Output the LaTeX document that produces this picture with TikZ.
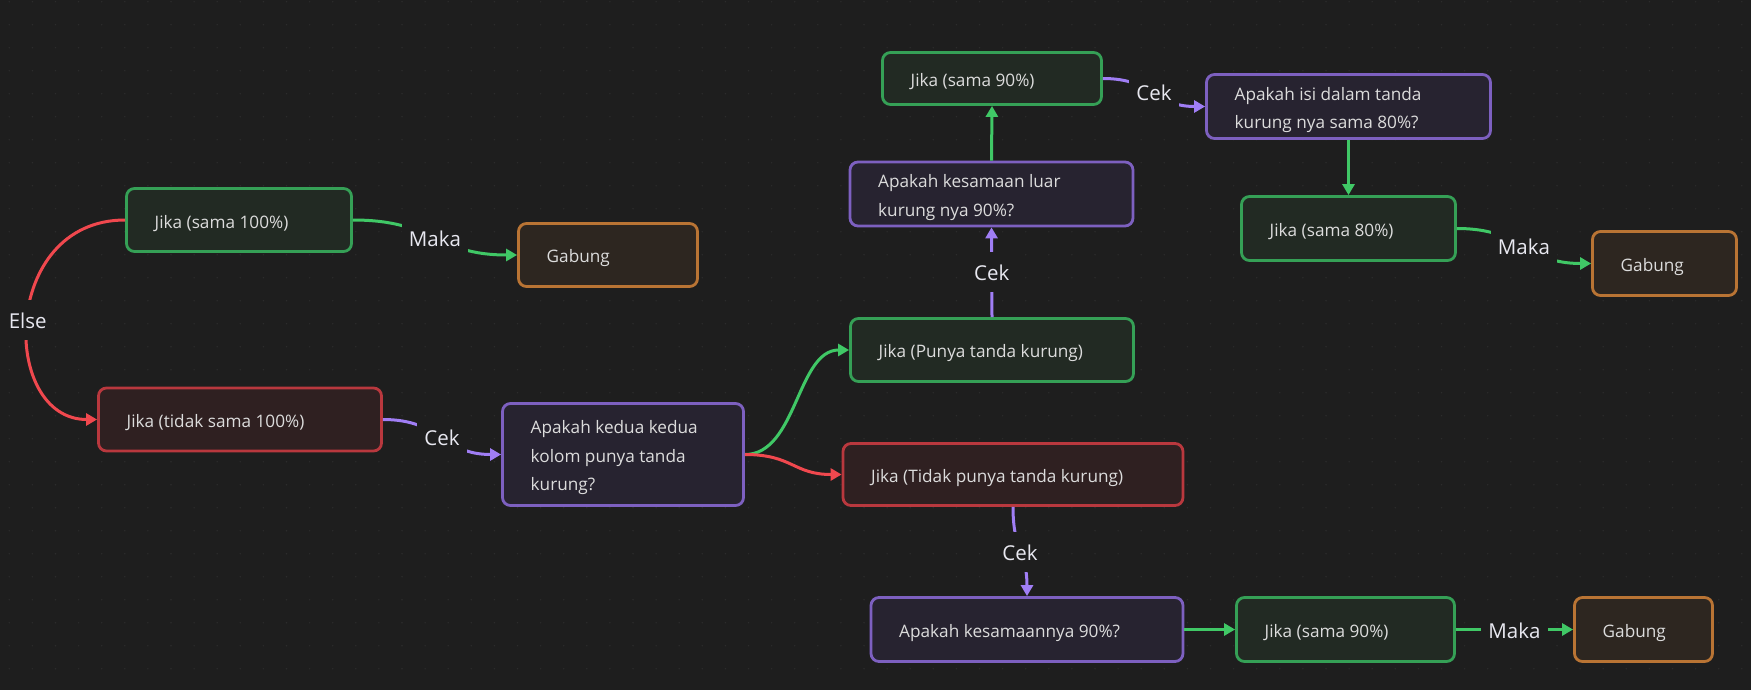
\documentclass[tikz,border=0pt]{standalone}
\usepackage{fontspec}
\setmainfont{Open Sans}
\usetikzlibrary{arrows.meta}
\definecolor{bg}{HTML}{1E1E1E}
\definecolor{dotc}{HTML}{2C2C2C}
\definecolor{greenB}{HTML}{35A056}
\definecolor{greenF}{HTML}{222A23}
\definecolor{greenE}{HTML}{40C866}
\definecolor{redB}{HTML}{B9383E}
\definecolor{redF}{HTML}{2F2021}
\definecolor{redE}{HTML}{F0484E}
\definecolor{purB}{HTML}{7D60C0}
\definecolor{purF}{HTML}{272330}
\definecolor{purE}{HTML}{A07EF5}
\definecolor{oraB}{HTML}{B97434}
\definecolor{oraF}{HTML}{2D2620}
\definecolor{boxtxt}{HTML}{DCDCDC}
\definecolor{lbltxt}{HTML}{E8E8F0}
\begin{document}
\begin{tikzpicture}[x=1pt,y=-1pt,
  box/.style={rounded corners=8pt, line width=2.8pt, inner sep=0pt},
  gbox/.style={box, draw=greenB, fill=greenF},
  rbox/.style={box, draw=redB, fill=redF},
  pbox/.style={box, draw=purB, fill=purF},
  obox/.style={box, draw=oraB, fill=oraF},
  btxt/.style={anchor=west, align=left, inner sep=0pt, text=boxtxt,
    font=\fontsize{17.2}{28.5}\selectfont},
  lbl/.style={fill=bg, text=lbltxt, font=\fontsize{20.5}{24}\selectfont,
    inner xsep=7pt, inner ysep=10pt, text height=18.5pt, text depth=1.5pt},
  edge/.style={line width=3pt, -{Triangle[length=11pt,width=12pt]}},
  ge/.style={edge, draw=greenE},
  re/.style={edge, draw=redE},
  pe/.style={edge, draw=purE}]
\fill[bg] (0,0) rectangle (1751,690);
\useasboundingbox (0,0) rectangle (1751,690);
\foreach \i in {0,...,75}{
  \foreach \j in {0,...,29}{
    \fill[dotc] (9.3+23.1*\i, 1.7+23*\j) circle[radius=0.8pt];
  }
}
% boxes
\node[gbox, minimum width=225pt, minimum height=63pt] (j100) at (239,220) {};
\node[obox, minimum width=179pt, minimum height=63pt] (g1) at (608,255) {};
\node[rbox, minimum width=283pt, minimum height=63pt] (jt100) at (240,419.5) {};
\node[pbox, minimum width=241pt, minimum height=102pt] (akk) at (623,454.5) {};
\node[gbox, minimum width=283pt, minimum height=63pt] (jp) at (992,350) {};
\node[rbox, minimum width=340pt, minimum height=62pt] (jtp) at (1013,474.5) {};
\node[pbox, minimum width=283pt, minimum height=64pt] (akl) at (991.5,194) {};
\node[gbox, minimum width=219pt, minimum height=52pt] (j90t) at (992,78.5) {};
\node[pbox, minimum width=284pt, minimum height=64pt] (aisi) at (1348.5,106.5) {};
\node[gbox, minimum width=214pt, minimum height=64pt] (j80) at (1348.5,228.5) {};
\node[obox, minimum width=144pt, minimum height=64pt] (g2) at (1664.5,263.5) {};
\node[pbox, minimum width=312pt, minimum height=64pt] (aks) at (1027,629.5) {};
\node[gbox, minimum width=218pt, minimum height=64pt] (j90b) at (1345.5,629.5) {};
\node[obox, minimum width=138pt, minimum height=64pt] (g3) at (1643.5,629.5) {};
% box texts
\node[btxt] (j100t) at ([xshift=29.4pt,yshift=-3.5pt]j100.west) {Jika (sama 100\%)};
\node[btxt] (g1t) at ([xshift=29.4pt,yshift=-3.5pt]g1.west) {Gabung};
\node[btxt] (jt100t) at ([xshift=29.4pt,yshift=-3.5pt]jt100.west) {Jika (tidak sama 100\%)};
\node[btxt] (akkt) at ([xshift=29.4pt,yshift=-3.5pt]akk.west) {Apakah kedua kedua\\kolom punya tanda\\kurung?};
\node[btxt] (jpt) at ([xshift=29.4pt,yshift=-3.5pt]jp.west) {Jika (Punya tanda kurung)};
\node[btxt] (jtpt) at ([xshift=29.4pt,yshift=-3.5pt]jtp.west) {Jika (Tidak punya tanda kurung)};
\node[btxt] (aklt) at ([xshift=29.4pt,yshift=-3.5pt]akl.west) {Apakah kesamaan luar\\kurung nya 90\%?};
\node[btxt] (j90tt) at ([xshift=29.4pt,yshift=-3.5pt]j90t.west) {Jika (sama 90\%)};
\node[btxt] (aisit) at ([xshift=29.4pt,yshift=-3.5pt]aisi.west) {Apakah isi dalam tanda\\kurung nya sama 80\%?};
\node[btxt] (j80t) at ([xshift=29.4pt,yshift=-3.5pt]j80.west) {Jika (sama 80\%)};
\node[btxt] (g2t) at ([xshift=29.4pt,yshift=-3.5pt]g2.west) {Gabung};
\node[btxt] (akst) at ([xshift=29.4pt,yshift=-3.5pt]aks.west) {Apakah kesamaannya 90\%?};
\node[btxt] (j90bt) at ([xshift=29.4pt,yshift=-3.5pt]j90b.west) {Jika (sama 90\%)};
\node[btxt] (g3t) at ([xshift=29.4pt,yshift=-3.5pt]g3.west) {Gabung};
% edges
\draw[re] (j100.west) .. controls (0,220) and (0,419.5) .. (jt100.west) node[lbl, pos=0.5] (lelse) {Else};
\draw[ge] (j100.east) .. controls (435,220) and (435,255) .. (g1.west) node[lbl, pos=0.5] (lmaka1) {Maka};
\draw[pe] (jt100.east) .. controls (442,419.5) and (442,454.5) .. (akk.west) node[lbl, pos=0.5] (lcek1) {Cek};
\draw[ge] (akk.east) .. controls (797,454.5) and (797,350) .. (jp.west);
\draw[re] (akk.east) .. controls (793,454.5) and (793,474.5) .. (jtp.west);
\draw[pe] (jp.north) -- (akl.south) node[lbl, midway] (lcek2) {Cek};
\draw[ge] (akl.north) -- (j90t.south);
\draw[pe] (j90t.east) .. controls (1154,78.5) and (1154,106.5) .. (aisi.west) node[lbl, pos=0.5] (lcek3) {Cek};
\draw[ge] (aisi.south) -- (j80.north);
\draw[ge] (j80.east) .. controls (1524,228.5) and (1524,263.5) .. (g2.west) node[lbl, pos=0.5] (lmaka2) {Maka};
\draw[pe] (jtp.south) .. controls (1013,551.5) and (1027,551.5) .. (aks.north) node[lbl, pos=0.5] (lcek4) {Cek};
\draw[ge] (aks.east) -- (j90b.west);
\draw[ge] (j90b.east) -- (g3.west) node[lbl, midway] (lmaka3) {Maka};
\end{tikzpicture}
\end{document}
